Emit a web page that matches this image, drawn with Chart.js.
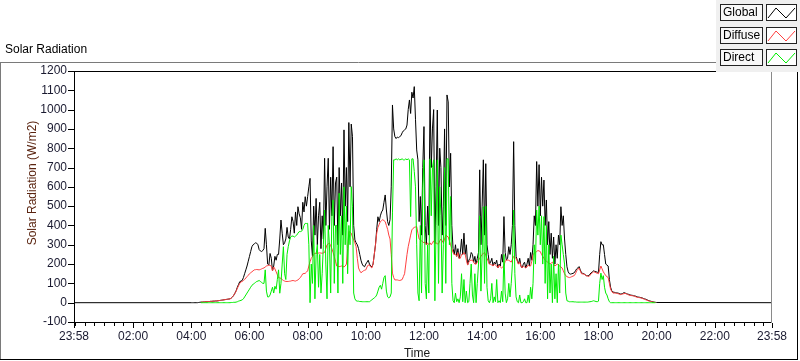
<!DOCTYPE html>
<html>
<head>
<meta charset="utf-8">
<script src="https://cdn.jsdelivr.net/npm/chart.js@4.4.0/dist/chart.umd.min.js"></script>
<style>
  html, body { margin: 0; padding: 0; background: #fff; }
  #wrap { position: relative; width: 800px; height: 361px; }
</style>
</head>
<body>
<div id="wrap"><canvas id="solarChart" width="800" height="361"></canvas></div>
<script>
// day readings every 2.5 minutes from 04:00 to 20:00 (W/m2), one row per hour
const startTime = '04:00';
const stepMinutes = 2.5;
const nightGlobal = 0;

const globalVals = [
  0,0,0,0,0,0,1,2,3,3,4,4,5,5,6,6,7,7,8,8,9,9,10,11,
  12,13,14,15,16,17,18,19,20,24,30,38,49,62,80,95,109,112,115,130,150,170,190,215,
  240,265,290,300,305,310,308,300,275,268,265,270,280,385,300,200,195,255,230,165,190,240,220,250,
  250,330,428,360,300,310,330,390,340,330,380,445,420,360,470,400,497,460,440,380,520,470,549,500,
  549,600,644,320,238,500,350,540,300,450,520,280,450,330,748,400,600,748,380,650,450,808,400,620,
  650,300,700,450,620,350,895,500,700,420,933,600,925,860,400,325,310,300,280,250,220,200,190,186,
  200,210,220,200,190,185,200,250,300,380,445,420,450,470,480,520,558,480,420,400,430,600,1024,900,
  860,850,858,855,860,865,880,890,895,900,920,1000,1050,980,1090,1060,1119,950,791,740,420,550,350,700,
  912,400,300,500,350,1067,700,900,1000,308,600,998,400,800,700,350,500,900,400,1076,1040,600,774,400,
  280,250,300,240,280,230,260,330,250,360,250,300,195,220,230,260,250,210,240,200,230,260,688,300,
  500,740,350,720,300,250,200,210,230,190,210,200,220,180,200,190,250,210,446,260,220,230,290,250,
  300,400,834,400,240,220,200,230,190,180,200,210,180,200,230,190,260,220,300,450,400,731,500,715,
  450,650,500,635,400,532,300,420,250,360,230,340,200,300,230,350,300,497,400,450,330,250,186,160,
  150,148,150,152,155,165,175,180,187,170,155,152,150,145,140,140,140,148,155,160,165,162,160,158,
  155,250,316,300,300,250,200,195,190,120,80,60,55,54,52,51,50,48,45,46,48,52,50,47,
  45,43,40,39,38,36,35,33,30,29,28,26,25,22,20,18,15,12,10,8,6,4,3,2,
  1
];

const diffuseVals = [
  null,null,null,null,null,null,null,null,3,3,4,4,5,5,6,6,7,7,8,8,9,9,10,11,
  12,13,14,15,16,17,18,19,20,24,30,38,49,60,75,88,100,108,110,115,120,128,135,142,
  150,155,160,165,170,171,172,171,170,172,175,178,180,185,190,192,195,193,190,165,185,175,160,145,
  130,128,126,120,115,112,110,110,110,111,112,114,115,113,112,115,118,124,130,140,150,151,152,158,
  165,190,212,230,238,250,256,256,256,257,258,257,256,258,260,280,300,305,308,295,280,260,240,215,
  190,188,187,188,190,188,185,190,200,280,368,365,360,340,325,310,290,230,180,165,155,160,165,168,
  170,185,195,195,185,180,200,250,300,360,390,405,420,425,430,425,420,400,380,350,330,250,153,130,
  118,118,118,116,115,117,120,135,150,200,250,290,320,350,377,385,390,392,394,360,330,325,320,315,
  310,315,300,310,300,310,300,310,320,305,310,305,305,320,330,320,310,330,350,345,340,320,300,280,
  260,250,250,240,260,230,230,250,250,260,250,220,195,210,220,220,220,210,200,200,210,220,230,240,
  250,255,260,245,230,215,200,198,195,190,200,195,190,180,195,185,180,185,190,215,220,220,220,215,
  210,225,240,235,230,215,200,210,190,180,190,185,180,185,195,190,190,215,250,255,260,265,270,268,
  265,250,240,230,220,215,210,205,200,205,210,200,190,195,200,195,190,185,180,165,150,140,135,132,
  130,132,135,138,140,150,165,172,180,165,150,149,148,144,140,138,135,142,150,155,160,158,155,152,
  150,170,190,175,160,150,140,135,130,100,70,58,50,50,50,48,47,45,42,43,45,47,48,46,
  43,40,38,37,36,35,33,30,28,27,26,25,23,20,18,15,13,10,8,6,5,3,2,1,
  null
];

const directVals = [
  null,null,null,null,null,null,null,null,0,0,0,0,0,0,0,0,0,0,0,0,0,0,0,0,
  0,0,0,0,0,0,0,0,0,1,1,2,2,3,5,8,10,12,15,20,30,40,50,60,
  70,80,90,95,100,105,110,112,115,110,105,100,100,170,60,30,30,40,60,80,50,85,70,120,
  170,49,100,200,290,150,120,250,290,320,340,345,345,340,345,350,360,368,368,370,380,400,411,410,
  411,300,0,200,100,400,20,250,300,80,250,50,150,300,480,200,20,400,300,50,450,532,100,400,
  400,50,567,250,450,100,600,300,500,150,400,300,601,500,50,20,10,8,8,6,6,5,5,5,
  5,5,5,5,10,15,20,25,30,40,60,80,90,70,100,130,140,60,30,25,30,50,465,740,
  740,745,740,745,740,742,745,740,740,745,740,745,740,446,745,745,680,600,300,50,10,400,50,600,
  740,100,20,300,50,745,450,700,740,10,400,740,100,600,450,50,300,700,100,745,745,300,550,100,
  10,0,50,5,20,0,30,150,5,120,0,60,0,5,100,200,40,0,150,0,100,200,450,60,
  250,497,100,500,80,10,0,20,100,0,30,5,120,0,10,0,60,5,250,50,0,20,100,30,
  100,200,480,150,30,5,0,40,0,0,5,20,0,0,40,0,80,20,100,300,200,480,350,500,
  300,450,200,446,100,400,20,300,50,200,0,240,20,150,0,200,50,350,300,250,200,50,10,8,
  5,5,5,5,4,4,3,3,3,3,3,3,3,3,3,3,4,5,6,8,10,8,6,5,
  8,100,153,120,140,80,50,40,20,5,0,0,0,0,0,0,0,0,0,0,0,0,0,0,
  0,0,0,0,0,0,0,0,0,0,0,0,0,0,0,0,0,0,0,0,0,0,0,0,
  null
];

// axis runs from 23:58 to 23:58 next day
const axisStart = '23:58';
const xTickLabels = ['23:58','02:00','04:00','06:00','08:00','10:00','12:00','14:00','16:00','18:00','20:00','22:00','23:58'];

const FONT = '"Liberation Sans", Arial, sans-serif';

function clockMin(s) {
  const p = s.split(':');
  return +p[0] * 60 + +p[1];
}
function offsetOf(clock) {
  return (clockMin(clock) - clockMin(axisStart) + 1440) % 1440;
}
const xTickOffsets = xTickLabels.map((l, i) => i === xTickLabels.length - 1 ? 1440 : offsetOf(l));

const dayStart = offsetOf(startTime);
function toPoints(vals) {
  return vals.map((v, i) => ({ x: dayStart + i * stepMinutes, y: v }));
}
const globalPts = [{ x: 0, y: nightGlobal }].concat(toPoints(globalVals), [{ x: 1440, y: nightGlobal }]);

function hline(ctx, x1, x2, y, color) {
  ctx.strokeStyle = color;
  ctx.beginPath(); ctx.moveTo(x1, y); ctx.lineTo(x2, y); ctx.stroke();
}
function vline(ctx, x, y1, y2, color) {
  ctx.strokeStyle = color;
  ctx.beginPath(); ctx.moveTo(x, y1); ctx.lineTo(x, y2); ctx.stroke();
}

const legendItems = [
  { label: 'Global', color: '#000000' },
  { label: 'Diffuse', color: '#ff4040' },
  { label: 'Direct', color: '#00ee00' }
];

const framePlugin = {
  id: 'frame',
  beforeDraw(chart) {
    const ctx = chart.ctx;
    ctx.save();
    ctx.fillStyle = '#fff';
    ctx.fillRect(0, 0, chart.width, chart.height);
    ctx.fillStyle = '#000';
    ctx.font = '12px ' + FONT;
    ctx.textBaseline = 'middle';
    ctx.fillText('Solar Radiation', 5, 50);
    ctx.restore();
  },
  afterDraw(chart) {
    const ctx = chart.ctx;
    const a = chart.chartArea;
    const xs = chart.scales.x, ys = chart.scales.y;
    ctx.save();
    ctx.lineWidth = 1;

    // outer frame
    hline(ctx, 0, 717, 62.5, '#7a7a7a');
    vline(ctx, 0.5, 62, 360, '#7a7a7a');
    hline(ctx, 0, 798, 359.5, '#000');
    vline(ctx, 797.5, 72, 360, '#000');

    // plot border
    hline(ctx, a.left, a.right, a.top + 0.5, '#000');
    vline(ctx, a.left + 0.5, a.top, a.bottom + 1, '#000');
    hline(ctx, a.left, a.right, a.bottom + 0.5, '#000');
    vline(ctx, a.right - 0.5, a.top, a.bottom + 1, '#8a8a8a');

    // y tick marks
    for (let v = -100; v <= 1200; v += 100) {
      const py = Math.round(ys.getPixelForValue(v)) + 0.5;
      hline(ctx, a.left - 6, a.left, py, '#000');
    }
    // x minor ticks every 20 min of clock time
    for (let m = offsetOf('00:00'); m < 1440; m += 20) {
      if (xTickOffsets.includes(m)) continue;
      const px = Math.round(xs.getPixelForValue(m)) + 0.5;
      vline(ctx, px, a.bottom + 1, a.bottom + 4, '#000');
    }
    // x major ticks
    xTickOffsets.forEach(m => {
      const px = Math.round(xs.getPixelForValue(m)) + 0.5;
      vline(ctx, px, a.bottom + 1, a.bottom + 6, '#000');
    });

    // axis titles
    ctx.font = '12px ' + FONT;
    ctx.textAlign = 'center';
    ctx.textBaseline = 'middle';
    ctx.fillStyle = '#1a1a1a';
    ctx.fillText('Time', 417, 354);
    ctx.save();
    ctx.translate(33, 183);
    ctx.rotate(-Math.PI / 2);
    ctx.fillStyle = '#5a2410';
    ctx.fillText('Solar Radiation (W/m2)', 0, 0);
    ctx.restore();

    // legend panel
    ctx.fillStyle = '#f0f0f0';
    ctx.fillRect(716, 0, 84, 72);
    legendItems.forEach((it, i) => {
      const top = 4 + Math.round(i * 22.6);
      ctx.fillStyle = '#f8f8f8';
      ctx.fillRect(720, top, 43, 17);
      ctx.strokeStyle = '#222';
      ctx.strokeRect(720.5, top + 0.5, 42, 16);
      ctx.fillStyle = '#000';
      ctx.textAlign = 'left';
      ctx.fillText(it.label, 723, top + 9);
      ctx.fillStyle = '#fff';
      ctx.fillRect(766, top, 31, 17);
      ctx.strokeStyle = '#222';
      ctx.strokeRect(766.5, top + 0.5, 30, 16);
      ctx.strokeStyle = it.color;
      ctx.beginPath();
      ctx.moveTo(768, top + 14);
      ctx.lineTo(776, top + 4);
      ctx.lineTo(786, top + 14);
      ctx.lineTo(795, top + 4);
      ctx.stroke();
    });
    ctx.restore();
  }
};

const ctx = document.getElementById('solarChart').getContext('2d');
const solarChart = new Chart(ctx, {
  type: 'line',
  data: {
    datasets: [
      { label: 'Direct', data: toPoints(directVals), borderColor: '#00ee00', order: 1 },
      { label: 'Diffuse', data: toPoints(diffuseVals), borderColor: '#ff4040', order: 2 },
      { label: 'Global', data: globalPts, borderColor: '#000000', order: 3 }
    ]
  },
  options: {
    responsive: false,
    animation: false,
    devicePixelRatio: 1,
    elements: {
      line: { borderWidth: 1, tension: 0, fill: false },
      point: { radius: 0 }
    },
    layout: { padding: { top: 71, right: 28, left: 0, bottom: 0 } },
    plugins: { legend: { display: false }, tooltip: { enabled: false } },
    scales: {
      x: {
        type: 'linear',
        min: 0,
        max: 1440,
        grid: { display: false, drawTicks: false },
        border: { display: false },
        afterBuildTicks: s => { s.ticks = xTickOffsets.map(v => ({ value: v })); },
        afterFit: s => { s.height = 39; },
        ticks: {
          autoSkip: false,
          maxRotation: 0,
          padding: 7,
          color: '#1a1a30',
          font: { family: FONT, size: 12 },
          callback: v => xTickLabels[xTickOffsets.indexOf(v)]
        }
      },
      y: {
        min: -100,
        max: 1200,
        grid: { display: false, drawTicks: false },
        border: { display: false },
        afterFit: s => { s.width = 74; },
        ticks: {
          stepSize: 100,
          padding: 7,
          color: '#1a1a30',
          font: { family: FONT, size: 12 },
          callback: v => String(v)
        }
      }
    }
  },
  plugins: [framePlugin]
});
</script>
</body>
</html>
